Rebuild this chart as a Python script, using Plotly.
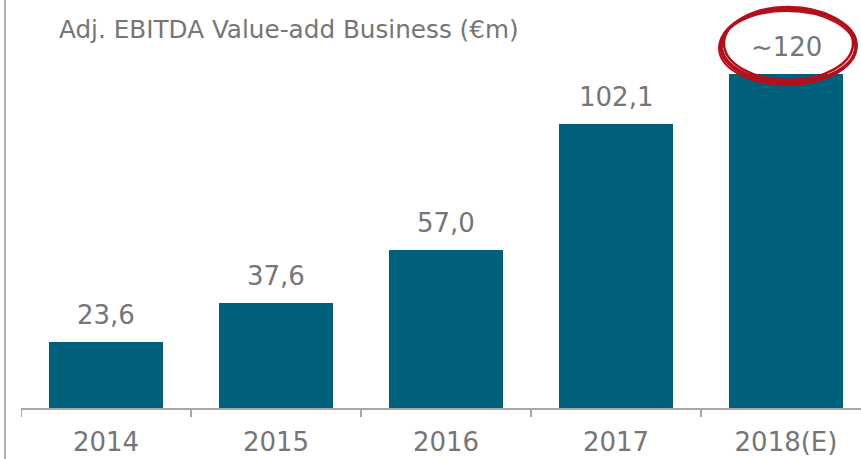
import plotly.graph_objects as go

categories = ["2014", "2015", "2016", "2017", "2018(E)"]
values = [23.6, 37.6, 57.0, 102.1, 120.0]
labels = ["23,6", "37,6", "57,0", "102,1", "~120"]

W, H = 861, 459
L, B = 21, 51
plot_w = W - L
plot_h = H - B
cat_px = 170.0
px_per_unit = 2.78
x_max = -0.5 + plot_w / cat_px
y_max = plot_h / px_per_unit

gray = "#767676"
bar_color = "#005f7a"
font_fam = "Verdana, DejaVu Sans"

fig = go.Figure()
fig.add_trace(go.Bar(x=list(range(len(categories))), y=values, marker_color=bar_color,
                     width=0.67, marker_line_width=0, showlegend=False, hoverinfo="skip"))

for i, (v, t) in enumerate(zip(values, labels)):
    fig.add_annotation(x=i, y=v, text=t, showarrow=False, yanchor="bottom", yshift=10,
                       font=dict(family=font_fam, size=26, color=gray))

fig.add_annotation(xref="paper", yref="paper", x=(57 - L) / plot_w, y=1 - 30 / plot_h,
                   xanchor="left", yanchor="middle", text="Adj. EBITDA Value-add Business (€m)",
                   showarrow=False, font=dict(family=font_fam, size=24.7, color=gray))

# left frame line
fig.add_shape(type="line", xref="paper", yref="paper", x0=-16 / plot_w, x1=-16 / plot_w,
              y0=-B / plot_h, y1=1, line=dict(color="#b0b0b0", width=2))

# hand-drawn style red ellipse around the last label
def px_to_x(px):
    return (px - L) / cat_px - 0.5

def py_to_y(py):
    return (plot_h - py) / px_per_unit

for (l, r, t, b, w) in [(721, 856, 9, 83, 3.5), (724, 853, 7, 80, 2.5), (719, 855, 11, 85, 2),
                        (722, 857, 8, 82, 1.5)]:
    fig.add_shape(type="circle", xref="x", yref="y",
                  x0=px_to_x(l), x1=px_to_x(r), y0=py_to_y(b), y1=py_to_y(t),
                  line=dict(color="#b3101b", width=w))

fig.update_xaxes(range=[-0.5, x_max], tickmode="array", tickvals=list(range(len(categories))),
                 ticktext=categories, showgrid=False, zeroline=False,
                 showline=True, linecolor="#a8a8a8", linewidth=2, ticklabelstandoff=10,
                 ticks="", tickfont=dict(family=font_fam, size=26, color=gray))
# boundary ticks
for bnd in [-0.5, 0.5, 1.5, 2.5, 3.5]:
    fig.add_shape(type="line", xref="x", yref="paper", x0=bnd, x1=bnd, y0=0, y1=-9 / plot_h,
                  line=dict(color="#a8a8a8", width=2))

fig.update_yaxes(range=[0, y_max], visible=False, showgrid=False, zeroline=False)

fig.update_layout(width=W, height=H, margin=dict(l=L, r=0, t=0, b=B),
                  plot_bgcolor="white", paper_bgcolor="white", bargap=0)

fig.write_html("out.html", config={"displayModeBar": False},
               post_script="document.body.style.margin='0';")
